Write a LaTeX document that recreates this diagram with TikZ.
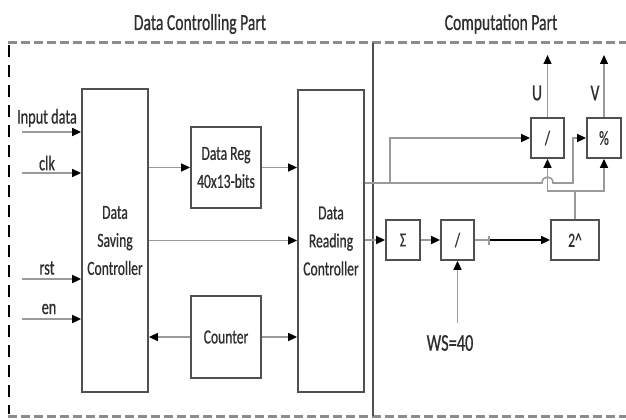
\documentclass[tikz,border=0pt]{standalone}
\usepackage{fontspec}
\setmainfont{Carlito}[FakeStretch=0.68,FakeBold=0.6]
\usetikzlibrary{arrows.meta}
\definecolor{wire}{HTML}{9A9A9A}
\definecolor{edge}{HTML}{505050}
\definecolor{ink}{HTML}{2E2E2E}
\definecolor{frame}{HTML}{8C8C8C}
\begin{document}
\begin{tikzpicture}[x=1pt,y=-1pt,
  blk/.style={draw=edge,line width=1.8pt,inner sep=0pt,text=ink,align=center,
              font=\fontsize{20}{28}\selectfont},
  wireln/.style={draw=wire,line width=1.6pt},
  conn/.style={wireln,-{Triangle[length=9pt,width=8pt,color=black]}},
  lbl/.style={text=ink,inner sep=0pt,font=\fontsize{21}{24}\selectfont},
  ttl/.style={text=ink,inner sep=0pt,anchor=base,font=\fontsize{23}{26}\selectfont},
  rim/.style={draw=frame,line width=3pt,dash pattern=on 9pt off 4pt},
]
\useasboundingbox[fill=white] (0,0) rectangle (626,420);

% section titles
\node[ttl] (t1) at (200,30) {Data Controlling Part};
\node[ttl] (t2) at (501,30) {Computation Part};

% outer frame and divider
\draw[rim] (8,43) -- (626,43);
\draw[rim] (8,416) -- (626,416);
\draw[black,line width=1.3pt,dash pattern=on 12pt off 8pt] (9,45) -- (9,414);
\draw[edge,line width=1.5pt] (373,43) -- (373,416);

% data controlling blocks
\node[blk,minimum width=66pt,minimum height=303pt] (sav) at (115,240.5) {Data\\Saving\\Controller};
\node[blk,minimum width=66pt,minimum height=302pt] (rd) at (331,241) {Data\\Reading\\Controller};
\node[blk,minimum width=70pt,minimum height=81pt] (reg) at (226,167.5) {Data Reg\\40x13-bits};
\node[blk,minimum width=70pt,minimum height=82pt] (cnt) at (226,337) {Counter};

% computation blocks
\node[blk,minimum width=34pt,minimum height=40pt] (sum) at (403,240) {Σ};
\node[blk,minimum width=33pt,minimum height=40pt] (dv1) at (457.5,240) {/};
\node[blk,minimum width=48pt,minimum height=40pt] (pw) at (575,240) {2\textasciicircum};
\node[blk,minimum width=33pt,minimum height=40pt] (dv2) at (547.5,138) {/};
\node[blk,minimum width=34pt,minimum height=40pt] (md) at (604,138) {\%};

% input signals
\node[lbl] (lin) at (47,118) {Input data};
\node[lbl] (lclk) at (47,163) {clk};
\node[lbl] (lrst) at (47,268) {rst};
\node[lbl] (len) at (49,309) {en};
\coordinate (iin) at (22,132);
\coordinate (iclk) at (22,173);
\coordinate (irst) at (22,279);
\coordinate (ien) at (22,319);
\draw[conn] (iin) -- (iin -| sav.west);
\draw[conn] (iclk) -- (iclk -| sav.west);
\draw[conn] (irst) -- (irst -| sav.west);
\draw[conn] (ien) -- (ien -| sav.west);

% data controlling connections
\draw[conn] (sav.east |- reg.west) -- (reg.west);
\draw[conn] (reg.east) -- (reg.east -| rd.west);
\draw[conn] (sav.east) -- (sav.east -| rd.west);
\draw[conn] (cnt.west) -- (cnt.west -| sav.east);
\draw[conn] (cnt.east) -- (cnt.east -| rd.west);

% computation path
\draw[conn] (rd.east |- sum.west) -- (sum.west);
\draw[conn] (sum.east) -- (dv1.west);
\coordinate (tk) at (488,240);
\draw[wireln] (dv1.east) -- (tk);
\draw[black,line width=1.6pt,{Bar[width=9pt,color=wire]}-{Triangle[length=9pt,width=8pt]}] (tk) -- (pw.west);
\node[lbl,font=\fontsize{24}{26}\selectfont] (ws) at (450,343) {WS=40};
\coordinate (wsi) at (457.5,323);
\draw[conn] (wsi) -- (dv1.south);

% bus from the reading controller
\path (rd.east) ++(0,-58) coordinate (rdo);
\coordinate (j1) at (390,183);
\coordinate (hl) at (542,183);
\coordinate (hr) at (553,183);
\coordinate (j2) at (573,183);
\draw[conn] (rdo) -- (j1) |- (dv2.west);
\draw[conn] (rdo) -- (hl) .. controls (542,175) and (553,175) .. (hr) -- (j2) |- (md.west);

% power-of-two feedback
\coordinate (j3) at (575,191);
\draw[wireln] (pw.north) -- (j3);
\draw[conn] (j3) -| (dv2.south);
\draw[conn] (j3) -| (md.south);

% outputs
\coordinate (uo) at (547.5,55);
\coordinate (vo) at (604,55);
\draw[conn,line width=1.2pt] (dv2.north) -- (uo);
\draw[conn,line width=1.2pt] (md.north) -- (vo);
\node[lbl,font=\fontsize{23}{26}\selectfont] (lu) at (537,93) {U};
\node[lbl,font=\fontsize{23}{26}\selectfont] (lv) at (595,93) {V};
\end{tikzpicture}
\end{document}
